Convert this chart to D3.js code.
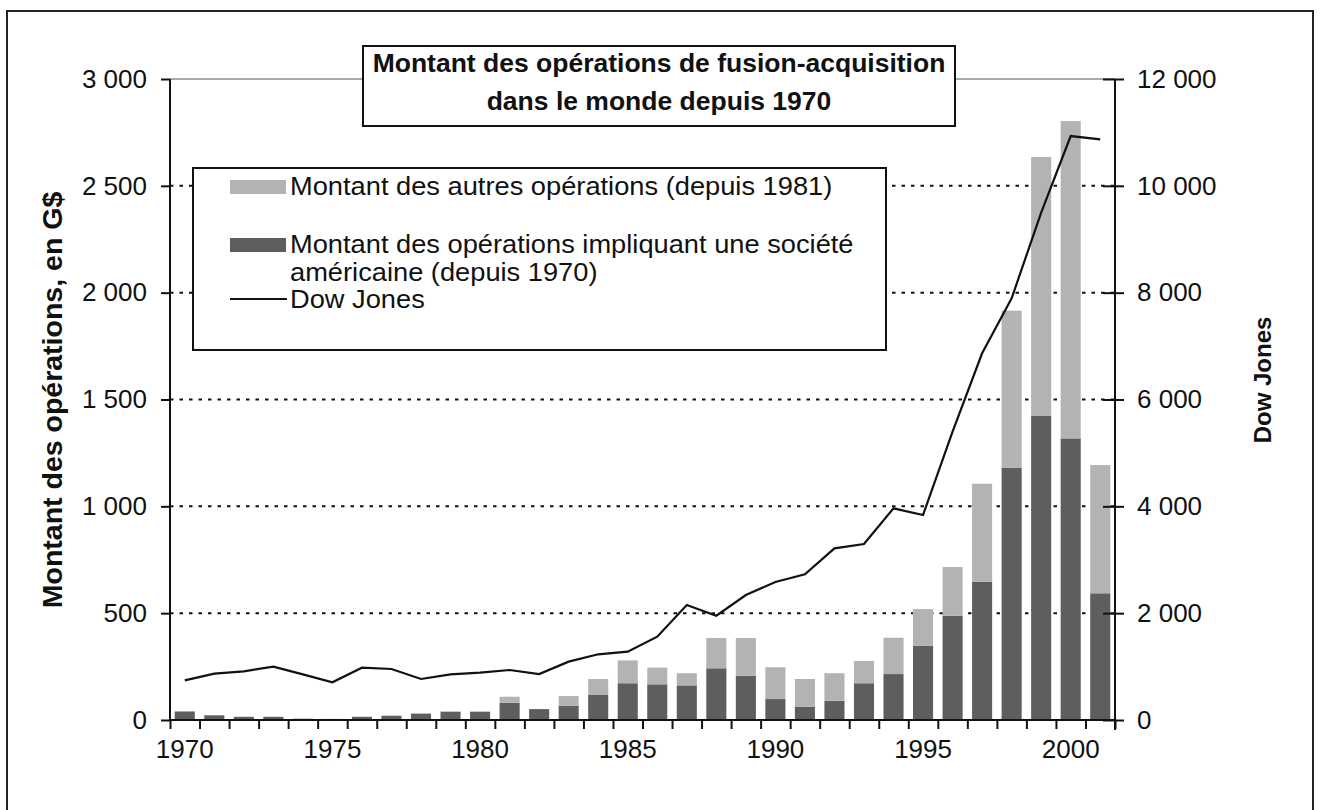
<!DOCTYPE html>
<html><head><meta charset="utf-8">
<script src="https://cdn.jsdelivr.net/npm/d3@7"></script>
<style>
body{margin:0;background:#fff}
svg{display:block}
text{font-family:"Liberation Sans",Arial,sans-serif;fill:#111}
</style>
</head><body>
<svg id="chart" width="1320" height="810"></svg>
<script>
// ---------- data ----------
const years = [1970,1971,1972,1973,1974,1975,1976,1977,1978,1979,1980,1981,1982,1983,1984,1985,
               1986,1987,1988,1989,1990,1991,1992,1993,1994,1995,1996,1997,1998,1999,2000,2001];
// Montant des opérations impliquant une société américaine (G$)
const usDeals = [40,22,15,15,6,5,15,20,30,39,39,81,51,66,117,172,
                 167,162,242,207,98,62,90,172,215,348,488,647,1181,1423,1318,593];
// Montant des autres opérations (G$)
const otherDeals = [0,0,0,0,0,0,0,0,0,0,0,28,0,46,75,107,
                    78,57,142,177,149,130,129,104,170,171,228,459,735,1212,1485,600];
// Dow Jones
const dowJones = [743,867,911,998,855,705,980,955,768,855,886,936,861,1092,1230,1279,
                  1560,2153,1953,2340,2583,2727,3214,3295,3963,3838,5400,6865,7894,9500,10932,10870];

const leftTicks = [0,500,1000,1500,2000,2500,3000];
const rightTicks = [0,2000,4000,6000,8000,10000,12000];
const gridValues = [500,1000,1500,2000,2500];
const xLabelYears = [1970,1975,1980,1985,1990,1995,2000];
const titleLines = ["Montant des opérations de fusion-acquisition","dans le monde depuis 1970"];
const legendLabels = ["Montant des autres opérations (depuis 1981)",
                      "Montant des opérations impliquant une société",
                      "américaine (depuis 1970)",
                      "Dow Jones"];
const leftTitle = "Montant des opérations, en G$";
const rightTitle = "Dow Jones";

// ---------- layout ----------
const X0 = 170, X1 = 1115, Y0 = 720, YT = 79;
const darkColor = "#5e5e5e", lightColor = "#b3b3b3";
const svg = d3.select("#chart");
const fr = d3.formatLocale({decimal:",", thousands:" ", grouping:[3], currency:["",""]});
const fmt = fr.format(",");

const x = d3.scaleBand().domain(years).range([X0, X1]).paddingInner(0.32).paddingOuter(0.16);
const xb = d3.scaleLinear().domain([0, years.length]).range([X0, X1]);
const yL = d3.scaleLinear().domain([0,3000]).range([Y0, YT]);
const yR = d3.scaleLinear().domain([0,12000]).range([Y0, YT]);

// outer frame
svg.append("rect").attr("x",7).attr("y",11).attr("width",1306).attr("height",805)
  .attr("fill","none").attr("stroke","#222").attr("stroke-width",2);

// top border of plot area
svg.append("line").attr("x1",X0).attr("x2",X1).attr("y1",yL(3000)).attr("y2",yL(3000))
  .attr("stroke","#555").attr("stroke-width",1.2);

// gridlines
svg.append("g").selectAll("line").data(gridValues).join("line")
  .attr("x1",X0).attr("x2",X1).attr("y1",d=>yL(d)).attr("y2",d=>yL(d))
  .attr("stroke","#111").attr("stroke-width",2).attr("stroke-dasharray","3.5,6");

// stacked bars
const stack = years.map((yr,i)=>({yr, us:usDeals[i], other:otherDeals[i]}));
const gBars = svg.append("g");
gBars.selectAll("rect.us").data(stack).join("rect").attr("class","us")
  .attr("x",d=>x(d.yr)).attr("width",x.bandwidth())
  .attr("y",d=>yL(d.us)).attr("height",d=>Y0-yL(d.us))
  .attr("fill",darkColor);
gBars.selectAll("rect.other").data(stack.filter(d=>d.other>0)).join("rect").attr("class","other")
  .attr("x",d=>x(d.yr)).attr("width",x.bandwidth())
  .attr("y",d=>yL(d.us+d.other)).attr("height",d=>yL(d.us)-yL(d.us+d.other))
  .attr("fill",lightColor);

// Dow Jones line
const line = d3.line().x((d,i)=>x(years[i])+x.bandwidth()/2).y(d=>yR(d));
svg.append("path").datum(dowJones).attr("d",line)
  .attr("fill","none").attr("stroke","#111").attr("stroke-width",2.2).attr("stroke-linejoin","miter");

// left axis
const axL = svg.append("g").attr("transform",`translate(${X0},0)`)
  .call(d3.axisLeft(yL).tickValues(leftTicks).tickSize(9).tickPadding(14).tickFormat(fmt));
// right axis
const axR = svg.append("g").attr("transform",`translate(${X1},0)`)
  .call(d3.axisRight(yR).tickValues(rightTicks).tickSize(9).tickPadding(13).tickFormat(fmt));
axR.selectAll(".tick").append("line").attr("x1",-12).attr("x2",0).attr("stroke","#111").attr("stroke-width",2);
// bottom boundary ticks
const axB = svg.append("g").attr("transform",`translate(0,${Y0})`)
  .call(d3.axisBottom(xb).tickValues(d3.range(years.length+1)).tickSize(9).tickFormat(""));
// bottom labels
const axBL = svg.append("g").attr("transform",`translate(0,${Y0})`)
  .call(d3.axisBottom(x).tickValues(xLabelYears).tickSize(0).tickPadding(20));
axBL.select(".domain").remove();

[axL,axR,axB,axBL].forEach(a=>{
  a.selectAll(".domain").attr("stroke","#111").attr("stroke-width",2);
  a.selectAll(".tick line").attr("stroke","#111").attr("stroke-width",2);
  a.selectAll("text").attr("font-size",26).attr("fill","#111")
    .attr("font-family","'Liberation Sans',Arial,sans-serif");
});
axL.select(".domain").attr("d",`M0,${Y0}V${YT}`);
axR.select(".domain").attr("d",`M0,${Y0+10}V${YT}`);
axB.select(".domain").attr("d",`M${X0},0H${X1}`);

// axis titles
svg.append("text").attr("transform","translate(52,400) rotate(-90)")
  .attr("text-anchor","middle").attr("dominant-baseline","central")
  .attr("font-size",28.5).attr("font-weight","bold").text(leftTitle);
svg.append("text").attr("transform","translate(1262,380) rotate(-90)")
  .attr("text-anchor","middle").attr("dominant-baseline","central")
  .attr("font-size",24).attr("font-weight","bold").text(rightTitle);

// title box
svg.append("rect").attr("x",363).attr("y",46).attr("width",592).attr("height",80)
  .attr("fill","#fff").attr("stroke","#111").attr("stroke-width",2);
svg.append("g").selectAll("text").data(titleLines).join("text")
  .attr("x",659).attr("y",(d,i)=>72+i*38).attr("text-anchor","middle")
  .attr("font-size",26.5).attr("font-weight","bold").text(d=>d);

// legend
const lg = svg.append("g");
lg.append("rect").attr("x",193).attr("y",168).attr("width",693).attr("height",182)
  .attr("fill","#fff").attr("stroke","#111").attr("stroke-width",2);
lg.append("rect").attr("x",230).attr("y",180).attr("width",56).attr("height",14).attr("fill",lightColor);
lg.append("rect").attr("x",230).attr("y",238).attr("width",56).attr("height",14).attr("fill",darkColor);
lg.append("line").attr("x1",230).attr("x2",287).attr("y1",299).attr("y2",299)
  .attr("stroke","#111").attr("stroke-width",2);
const legendY = [195,253,281,308];
lg.selectAll("text").data(legendLabels).join("text")
  .attr("x",290).attr("y",(d,i)=>legendY[i]).attr("font-size",25).text(d=>d)
  .each(function(){
    const w = this.getComputedTextLength();
    d3.select(this).attr("textLength", w*1.09).attr("lengthAdjust","spacingAndGlyphs");
  });
</script>
</body></html>
